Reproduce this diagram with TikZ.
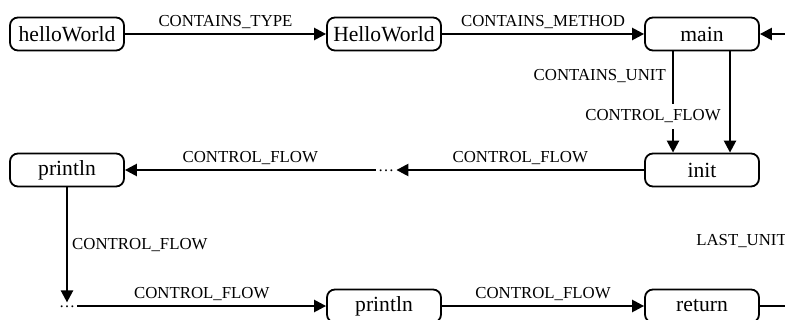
\documentclass[tikz,border=0pt]{standalone}
\usepackage{fontspec}
\setmainfont{Liberation Serif}
\usetikzlibrary{arrows.meta}
\tikzset{
  box/.style={draw, line width=0.9pt, rounded corners=4pt, minimum width=57pt, minimum height=16.5pt, inner sep=1pt, font=\fontsize{10.8}{13}\selectfont},
  dotnode/.style={inner sep=1pt, text height=1.2pt, text depth=0pt, font=\footnotesize},
  edge/.style={line width=1.2pt, -{Triangle[length=6pt,width=6pt]}},
  lab/.style={font=\fontsize{8.4}{10}\selectfont, inner sep=2pt}
}
\begin{document}
\begin{tikzpicture}[x=0.5pt,y=-0.5pt]
\useasboundingbox (0,0) rectangle (785,320);
\clip (0,0) rectangle (785,320);
\node[box] (hw) at (67,34) {helloWorld};
\node[box] (HW) at (384,34) {HelloWorld};
\node[box] (main) at (702,34) {main};
\node[box] (init) at (702,170) {init};
\node[box] (p1) at (67,170) {println};
\node[dotnode] (d1) at (386,170) {\dots};
\node[dotnode] (d2) at (67,306) {\dots};
\node[box] (p2) at (384,306) {println};
\node[box] (ret) at (702,306) {return};
\coordinate (r1) at (792,306);
\coordinate (r2) at (792,34);
\draw[edge] (hw) -- node[lab,above] {CONTAINS\_TYPE} (HW);
\draw[edge] (HW) -- node[lab,above] {CONTAINS\_METHOD} (main);
\draw[edge] ([xshift=-14.5pt]main.south) -- node[lab,pos=0.24,left,xshift=-1pt] {CONTAINS\_UNIT} node[lab,pos=0.64,fill=white,inner sep=3pt,xshift=-10pt] {CONTROL\_FLOW} ([xshift=-14.5pt]init.north);
\draw[edge] ([xshift=14pt]main.south) -- ([xshift=14pt]init.north);
\draw[edge] (init) -- node[lab,above] {CONTROL\_FLOW} (d1);
\draw[edge] (d1) -- node[lab,above] {CONTROL\_FLOW} (p1);
\draw[edge] (p1) -- node[lab,right] {CONTROL\_FLOW} (d2);
\draw[edge] (d2) -- node[lab,above] {CONTROL\_FLOW} (p2);
\draw[edge] (p2) -- node[lab,above] {CONTROL\_FLOW} (ret);
\draw[edge] (ret) -- (r1) -- node[lab,left,pos=0.24] {LAST\_UNIT} (r2) -- (main);
\end{tikzpicture}
\end{document}
